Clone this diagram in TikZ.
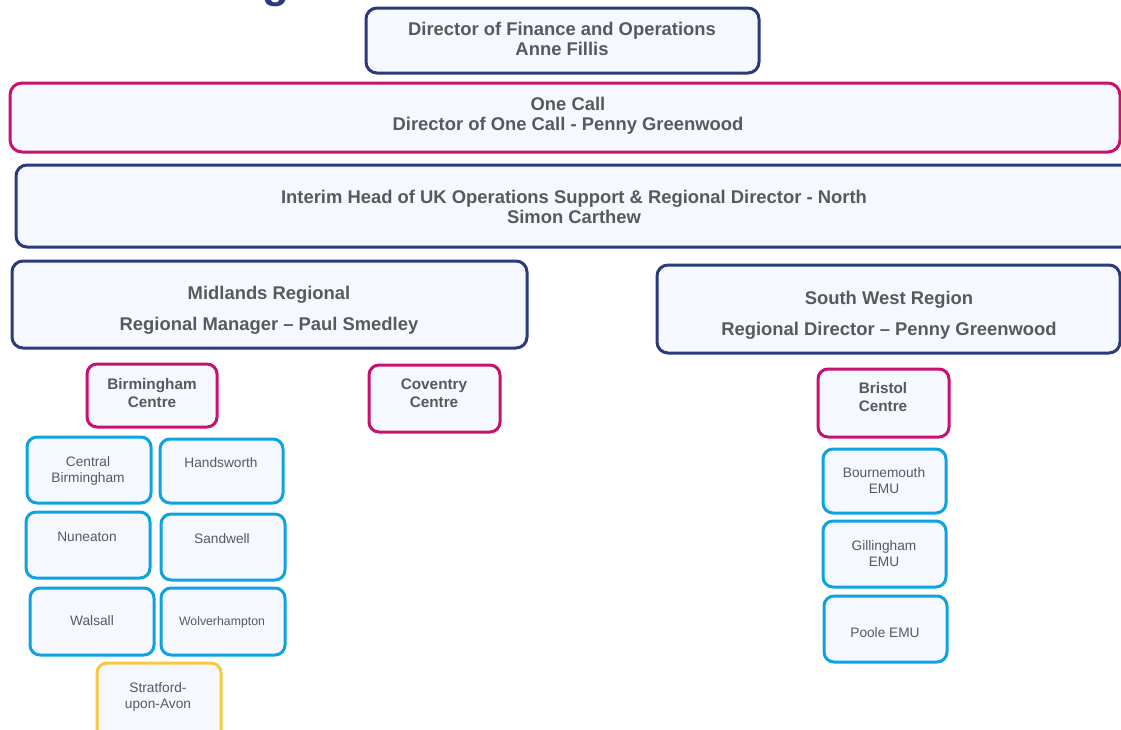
\documentclass[tikz,border=0pt]{standalone}
\usepackage{fontspec}
\setmainfont{Liberation Sans}
\definecolor{navy}{HTML}{2B3A7A}
\definecolor{mag}{HTML}{C8106E}
\definecolor{sky}{HTML}{0CA3E0}
\definecolor{gold}{HTML}{F4CB3E}
\definecolor{boxfill}{HTML}{F5F8FE}
\definecolor{txtgray}{HTML}{595959}
\tikzset{
  bx/.style={draw, fill=boxfill, line width=3pt, rounded corners=11pt, inner sep=0pt},
  navybox/.style={bx, draw=navy},
  magbox/.style={bx, draw=mag, rounded corners=10pt},
  skybox/.style={bx, draw=sky, rounded corners=10pt},
  goldbox/.style={bx, draw=gold, rounded corners=10pt},
  tx/.style={text=txtgray, align=center, inner sep=0pt},
  bigtxt/.style={tx, font=\fontsize{18.4}{20}\selectfont\bfseries},
  regtxt/.style={tx, font=\fontsize{18.4}{31}\selectfont\bfseries},
  centtxt/.style={tx, font=\fontsize{15.3}{18}\selectfont\bfseries},
  smalltxt/.style={tx, font=\fontsize{13.7}{16}\selectfont},
}
\begin{document}
\begin{tikzpicture}[x=1pt,y=-1pt]
\useasboundingbox (0,0) rectangle (1121,729);
\clip (0,0) rectangle (1121,729);
\fill[white] (0,0) rectangle (1121,729);
% cut-off title glyph (as in the reference)
\node[text=navy, font=\fontsize{44}{44}\selectfont\bfseries, inner sep=0pt, anchor=base] (title) at (275.5,-3) {g};
% big boxes
\node[navybox, minimum width=393pt, minimum height=65pt] (fin) at (562.5,40.5) {};
\node[bigtxt] (fin-t) at (562,39) {Director of Finance and Operations\\Anne Fillis};
\node[magbox, rounded corners=12pt, minimum width=1110pt, minimum height=69pt] (onecall) at (565,117.5) {};
\node[bigtxt] (onecall-t) at (568,116) {One Call\\Director of One Call - Penny Greenwood};
\node[navybox, minimum width=1116pt, minimum height=82pt] (interim) at (574,206) {};
\node[bigtxt] (interim-t) at (574,207) {Interim Head of UK Operations Support \& Regional Director - North\\Simon Carthew};
\node[navybox, minimum width=515pt, minimum height=87pt] (mid) at (269.5,304.5) {};
\node[regtxt] (mid-t) at (269,310) {Midlands Regional\\Regional Manager -- Paul Smedley};
\node[navybox, minimum width=463pt, minimum height=88pt] (sw) at (888.5,309) {};
\node[regtxt] (sw-t) at (889,315) {South West Region\\Regional Director -- Penny Greenwood};
% centres
\node[magbox, minimum width=130pt, minimum height=63pt] (bham) at (152,395.5) {};
\node[centtxt] (bham-t) at (152,393) {Birmingham\\Centre};
\node[magbox, minimum width=131pt, minimum height=67pt] (cov) at (434.5,398.5) {};
\node[centtxt] (cov-t) at (434,393.5) {Coventry\\Centre};
\node[magbox, minimum width=131pt, minimum height=68pt] (bris) at (883.5,403) {};
\node[centtxt] (bris-t) at (883,397) {Bristol\\Centre};
% local offices
\node[skybox, minimum width=124pt, minimum height=66pt] (cb) at (89,470) {};
\node[smalltxt] (cb-t) at (88,470.5) {Central\\Birmingham};
\node[skybox, minimum width=123pt, minimum height=64pt] (hand) at (221.5,471) {};
\node[smalltxt] (hand-t) at (221,463) {Handsworth};
\node[skybox, minimum width=124pt, minimum height=66pt] (nun) at (88,545) {};
\node[smalltxt] (nun-t) at (87,537) {Nuneaton};
\node[skybox, minimum width=124pt, minimum height=66pt] (sand) at (223,547) {};
\node[smalltxt] (sand-t) at (222,539) {Sandwell};
\node[skybox, minimum width=124pt, minimum height=67pt] (wal) at (92,621.5) {};
\node[smalltxt] (wal-t) at (92,621) {Walsall};
\node[skybox, minimum width=124pt, minimum height=67pt] (wolv) at (223,621.5) {};
\node[tx, font=\fontsize{12.3}{15}\selectfont] (wolv-t) at (222,622) {Wolverhampton};
\node[goldbox, minimum width=124pt, minimum height=77pt] (strat) at (159,701.5) {};
\node[smalltxt] (strat-t) at (158,697) {Stratford-\\upon-Avon};
\node[skybox, minimum width=123pt, minimum height=64pt] (bourn) at (884.5,481) {};
\node[smalltxt] (bourn-t) at (884,481) {Bournemouth\\EMU};
\node[skybox, minimum width=123pt, minimum height=66pt] (gill) at (884.5,554) {};
\node[smalltxt] (gill-t) at (884,554) {Gillingham\\EMU};
\node[skybox, minimum width=123pt, minimum height=66pt] (poole) at (885.5,629) {};
\node[smalltxt] (poole-t) at (885,633) {Poole EMU};
\end{tikzpicture}
\end{document}
